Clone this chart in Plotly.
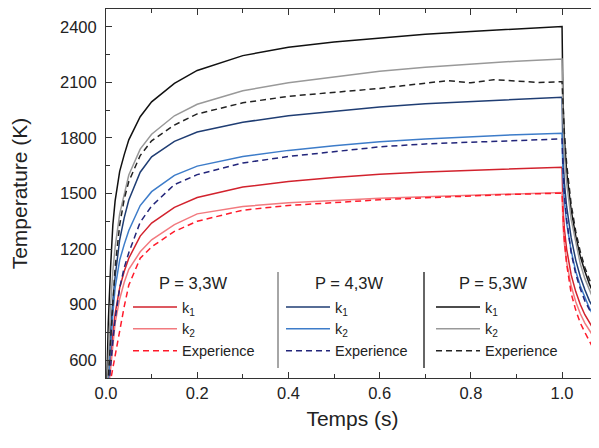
import plotly.graph_objects as go

# ---- data ----
t_heat = [0, 0.005, 0.01, 0.015, 0.02, 0.03, 0.04, 0.05, 0.075, 0.1, 0.15, 0.2,
          0.3, 0.4, 0.5, 0.6, 0.7, 0.8, 0.9, 1.0]
t_heat_exp53 = [0, 0.005, 0.01, 0.015, 0.02, 0.03, 0.04, 0.05, 0.075, 0.1, 0.15, 0.2,
                0.3, 0.4, 0.5, 0.55, 0.6, 0.65, 0.7, 0.75, 0.8, 0.85, 0.9, 0.95, 1.0]
t_cool = [1.002, 1.005, 1.01, 1.02, 1.03, 1.04, 1.05, 1.06, 1.07, 1.08, 1.09]

# P = 3,3W
p33_k1_heat = [300, 450, 600, 740, 850, 990, 1080, 1150, 1270, 1340, 1425, 1478,
               1535, 1565, 1587, 1604, 1616, 1626, 1635, 1642]
p33_k1_cool = [1420, 1310, 1200, 1060, 970, 900, 845, 800, 762, 730, 705]
p33_k2_heat = [300, 430, 570, 700, 800, 930, 1020, 1090, 1185, 1250, 1332, 1390,
               1430, 1450, 1463, 1474, 1483, 1491, 1498, 1505]
p33_k2_cool = [1330, 1230, 1130, 1000, 915, 850, 800, 757, 722, 692, 668]
p33_exp_heat = [300, 350, 490, 560, 620, 760, 890, 1005, 1150, 1212, 1295, 1350,
                1410, 1435, 1452, 1466, 1477, 1487, 1496, 1502]
p33_exp_cool = [1360, 1250, 1120, 960, 870, 800, 750, 700, 655, 615, 590]

# P = 4,3W
p43_k1_heat = [300, 550, 750, 920, 1050, 1250, 1370, 1465, 1615, 1698, 1782, 1832,
               1885, 1920, 1946, 1968, 1985, 1998, 2010, 2020]
p43_k1_cool = [1700, 1560, 1430, 1260, 1140, 1050, 980, 920, 875, 835, 800]
p43_k2_heat = [300, 500, 700, 850, 990, 1140, 1225, 1300, 1435, 1510, 1598, 1648,
               1700, 1733, 1758, 1780, 1795, 1808, 1818, 1826]
p43_k2_cool = [1580, 1460, 1340, 1190, 1080, 1000, 935, 880, 835, 800, 770]
p43_exp_heat = [300, 420, 560, 700, 820, 990, 1100, 1180, 1345, 1432, 1548, 1602,
                1665, 1700, 1728, 1752, 1768, 1778, 1788, 1795]
p43_exp_cool = [1650, 1500, 1360, 1180, 1065, 985, 920, 868, 825, 790, 760]

# P = 5,3W
p53_k1_heat = [300, 800, 1100, 1330, 1460, 1620, 1710, 1790, 1915, 1995, 2095, 2165,
               2245, 2290, 2318, 2340, 2360, 2376, 2390, 2402]
p53_k1_cool = [2000, 1800, 1620, 1410, 1270, 1160, 1080, 1010, 955, 905, 865]
p53_k2_heat = [300, 650, 900, 1080, 1210, 1390, 1500, 1600, 1740, 1820, 1920, 1982,
               2055, 2098, 2130, 2160, 2182, 2200, 2215, 2227]
p53_k2_cool = [1900, 1720, 1560, 1360, 1230, 1120, 1040, 975, 920, 870, 830]
p53_exp_heat = [300, 500, 750, 950, 1100, 1330, 1470, 1565, 1705, 1785, 1870, 1930,
                1990, 2025, 2045, 2055, 2068, 2082, 2098, 2110, 2098, 2115, 2108, 2100, 2104]
p53_exp_cool = [1980, 1830, 1660, 1440, 1295, 1185, 1100, 1030, 970, 920, 880]

legend_titles = ["P = 3,3W", "P = 4,3W", "P = 5,3W"]
names = ["k<sub>1</sub>", "k<sub>2</sub>", "Experience"]
x_ticks = [0, 0.2, 0.4, 0.6, 0.8, 1.0]
x_ticktext = ["0.0", "0.2", "0.4", "0.6", "0.8", "1.0"]
y_ticks = [600, 900, 1200, 1500, 1800, 2100, 2400]

groups = [
    ("legend", [
        (t_heat, p33_k1_heat, p33_k1_cool, "#d2222d", "solid"),
        (t_heat, p33_k2_heat, p33_k2_cool, "#f27a7f", "solid"),
        (t_heat, p33_exp_heat, p33_exp_cool, "#ff1a2a", "dash"),
    ]),
    ("legend2", [
        (t_heat, p43_k1_heat, p43_k1_cool, "#1f3d73", "solid"),
        (t_heat, p43_k2_heat, p43_k2_cool, "#3d7cc9", "solid"),
        (t_heat, p43_exp_heat, p43_exp_cool, "#22257a", "dash"),
    ]),
    ("legend3", [
        (t_heat, p53_k1_heat, p53_k1_cool, "#111111", "solid"),
        (t_heat, p53_k2_heat, p53_k2_cool, "#999999", "solid"),
        (t_heat_exp53, p53_exp_heat, p53_exp_cool, "#222222", "dash"),
    ]),
]

fig = go.Figure()
for leg, series in groups:
    for (th, yh, yc, col, dash), nm in zip(series, names):
        fig.add_trace(go.Scatter(
            x=list(th) + t_cool, y=list(yh) + yc, mode="lines", name=nm,
            line=dict(color=col, width=1.5, dash="solid" if dash == "solid" else "6px,4px"),
            legend=leg, showlegend=True,
        ))

# page body has an 8px margin; figure is sized/offset to compensate
OFF = 8
W, H = 591, 440
L, R, T, B = 98, 0, 1, 70
pw, ph = W - L - R, H - T - B

def px(x):   # page pixel -> paper fraction
    return (x - OFF - L) / pw

def py(y):
    return (OFF + H - B - y) / ph

FONT = "Liberation Sans, Arial, sans-serif"
leg_common = dict(bgcolor="rgba(0,0,0,0)", borderwidth=0, xanchor="left", yanchor="top",
                  font=dict(family=FONT, size=14.5, color="#222"),
                  traceorder="normal", itemwidth=44)

fig.update_layout(
    width=W, height=H,
    margin=dict(l=L, r=R, t=T, b=B, autoexpand=False),
    paper_bgcolor="white", plot_bgcolor="white",
    font=dict(family=FONT, color="#222"),
    legend=dict(**leg_common, x=px(128), y=py(291)),
    legend2=dict(**leg_common, x=px(281), y=py(291)),
    legend3=dict(**leg_common, x=px(431), y=py(291)),
    xaxis=dict(range=[0, 1.081], tickvals=x_ticks, ticktext=x_ticktext,
               ticks="inside", ticklen=6, tickcolor="#333", showline=True, linecolor="#333",
               linewidth=1, mirror="ticks", showgrid=False, zeroline=False, automargin=False,
               minor=dict(dtick=0.1, tick0=0, ticks="inside", ticklen=4, tickcolor="#333", showgrid=False),
               tickfont=dict(size=16.5, color="#222"),
               title=dict(text="Temps (s)", font=dict(size=21, color="#222"), standoff=10)),
    yaxis=dict(range=[503, 2497], tickvals=y_ticks,
               ticks="inside", ticklen=6, tickcolor="#333", showline=True, linecolor="#333",
               linewidth=1, mirror=False, showgrid=False, zeroline=False, automargin=False,
               ticklabelstandoff=5,
               minor=dict(dtick=150, tick0=600, ticks="inside", ticklen=4, tickcolor="#333", showgrid=False),
               tickfont=dict(size=16.5, color="#222"),
               title=dict(text="Temperature (K)", font=dict(size=21, color="#222"), standoff=27)),
    shapes=[
        dict(type="line", xref="paper", yref="paper", x0=px(278), x1=px(278), y0=py(272), y1=py(368),
             line=dict(color="#888888", width=1.5)),
        dict(type="line", xref="paper", yref="paper", x0=px(424), x1=px(424), y0=py(272), y1=py(368),
             line=dict(color="#333333", width=1.5)),
    ],
    annotations=[
        dict(text=t, xref="paper", yref="paper", x=px(cx), y=py(283), xanchor="center",
             yanchor="middle", showarrow=False, font=dict(family=FONT, size=16.5, color="#222"))
        for t, cx in zip(legend_titles, [193, 349, 493])
    ],
)

fig.write_html("out.html")
